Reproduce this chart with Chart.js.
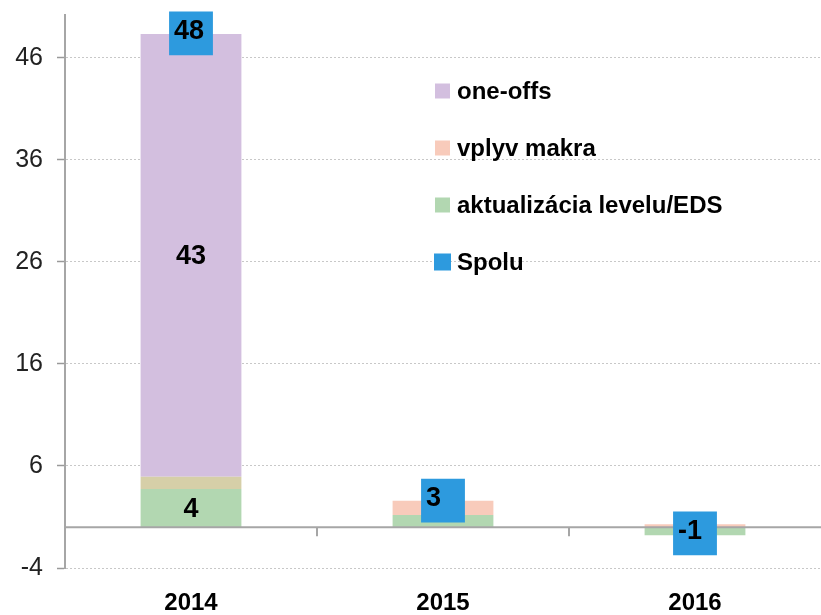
<!DOCTYPE html>
<html>
<head>
<meta charset="utf-8">
<script src="https://cdn.jsdelivr.net/npm/chart.js@4/dist/chart.umd.min.js"></script>
<style>
  body { margin: 0; background: #fff; }
  #wrap { width: 821px; height: 615px; }
</style>
</head>
<body>
<div id="wrap"><canvas id="chart" width="821" height="615"></canvas></div>
<script>
// chart values
const categories = ['2014', '2015', '2016'];
const oneOffs = [43.4, 0, 0];
const vplyvMakra = [1.2, 1.4, 0.3];
const aktualizacia = [3.75, 1.2, -0.8];
const spolu = [48.4, 2.6, -0.6];
const yTicks = [-4, 6, 16, 26, 36, 46];

const FONT = '"Liberation Sans", Arial, Helvetica, sans-serif';

// legend drawn inside the plot, right of 2014 bar
const legendPlugin = {
    id: 'innerLegend',
    afterDraw(chart) {
        const ctx = chart.ctx;
        const area = chart.chartArea;
        const items = [
            { text: 'one-offs', color: '#d3bfdf', size: 15 },
            { text: 'vplyv makra', color: '#f8cbbb', size: 15 },
            { text: 'aktualizácia levelu/EDS', color: '#b2d7b1', size: 15 },
            { text: 'Spolu', color: '#2d9ade', size: 17 }
        ];
        const x = area.left + 370;
        let y = area.top + 76;
        ctx.save();
        ctx.font = 'bold 24px ' + FONT;
        ctx.textBaseline = 'middle';
        items.forEach(item => {
            ctx.fillStyle = item.color;
            ctx.fillRect(x - (item.size - 15) / 2, y - item.size / 2, item.size, item.size);
            ctx.fillStyle = '#000';
            ctx.fillText(item.text, x + 22, y + 1);
            y += 57;
        });
        ctx.restore();
    }
};

// zero line with category separators, drawn under the Spolu markers
const zeroLinePlugin = {
    id: 'zeroLine',
    beforeDatasetDraw(chart, args) {
        if (args.index !== 0) return;
        const ctx = chart.ctx;
        const y = chart.scales.y.getPixelForValue(0);
        const xs = chart.scales.x;
        ctx.save();
        ctx.strokeStyle = '#a6a6a6';
        ctx.lineWidth = 2;
        ctx.beginPath();
        ctx.moveTo(chart.chartArea.left, y);
        ctx.lineTo(chart.chartArea.right, y);
        for (let i = 0; i < categories.length - 1; i++) {
            const bx = Math.round((xs.getPixelForTick(i) + xs.getPixelForTick(i + 1)) / 2);
            ctx.moveTo(bx, y);
            ctx.lineTo(bx, y + 9);
        }
        ctx.stroke();
        ctx.restore();
    }
};

// value labels
const labelPlugin = {
    id: 'valueLabels',
    afterDatasetsDraw(chart) {
        const ctx = chart.ctx;
        ctx.save();
        ctx.font = 'bold 27px ' + FONT;
        ctx.fillStyle = '#000';
        ctx.textBaseline = 'middle';
        chart.data.datasets.forEach((ds, di) => {
            const meta = chart.getDatasetMeta(di);
            meta.data.forEach((el, i) => {
                const v = ds.data[i];
                if (ds.type === 'line') {
                    ctx.textAlign = 'left';
                    ctx.fillText(String(Math.round(v)), el.x - 17, el.y - 2);
                } else if (Math.abs(v) >= 3) {
                    ctx.textAlign = 'center';
                    ctx.fillText(String(Math.round(v)), el.x, (el.y + el.base) / 2 + 1);
                }
            });
        });
        ctx.restore();
    }
};

function start() {
    const ctx = document.getElementById('chart').getContext('2d');
    new Chart(ctx, {
        type: 'bar',
        data: {
            labels: categories,
            datasets: [
                {
                    type: 'line',
                    label: 'Spolu',
                    data: spolu,
                    stack: 'total',
                    showLine: false,
                    clip: false,
                    pointStyle: 'rect',
                    pointRadius: 31,
                    pointHoverRadius: 31,
                    pointBackgroundColor: '#2d9ade',
                    pointBorderColor: '#2d9ade',
                    pointBorderWidth: 0
                },
                {
                    label: 'aktualizácia levelu/EDS',
                    data: aktualizacia,
                    stack: 'bars',
                    backgroundColor: '#b2d7b1'
                },
                {
                    label: 'vplyv makra',
                    data: vplyvMakra,
                    stack: 'bars',
                    backgroundColor: ['#d6cfa8', '#f8cbbb', '#f8cbbb']
                },
                {
                    label: 'one-offs',
                    data: oneOffs,
                    stack: 'bars',
                    backgroundColor: '#d3bfdf'
                }
            ]
        },
        options: {
            responsive: false,
            animation: false,
            layout: { autoPadding: false, padding: { top: 15, right: 0, left: 0, bottom: 0 } },
            datasets: {
                bar: { categoryPercentage: 1, barPercentage: 0.4, borderWidth: 0 }
            },
            plugins: {
                legend: { display: false },
                tooltip: { enabled: false }
            },
            scales: {
                x: {
                    stacked: true,
                    grid: { display: false, drawTicks: false },
                    border: { display: false },
                    ticks: {
                        color: '#000',
                        padding: 21,
                        font: { family: FONT, size: 24, weight: 'bold' }
                    },
                    afterFit: scale => {
                        scale.height = 47;
                        scale.paddingLeft = 0;
                        scale.paddingRight = 0;
                    }
                },
                y: {
                    stacked: true,
                    min: -4,
                    max: 50.2,
                    afterBuildTicks: scale => {
                        scale.ticks = yTicks.map(v => ({ value: v }));
                    },
                    afterFit: scale => {
                        scale.width = 65;
                        scale.paddingTop = 0;
                        scale.paddingBottom = 0;
                    },
                    grid: {
                        color: '#c8c8c8',
                        lineWidth: 1,
                        tickColor: '#999',
                        tickLength: 8,
                        tickWidth: 1.5,
                        tickBorderDash: []
                    },
                    border: { display: true, color: '#a6a6a6', width: 2, dash: [2, 2] },
                    ticks: {
                        color: '#222',
                        padding: 14,
                        font: { family: FONT, size: 25 }
                    }
                }
            }
        },
        plugins: [zeroLinePlugin, labelPlugin, legendPlugin]
    });
}

window.addEventListener('load', start, false);
</script>
</body>
</html>
